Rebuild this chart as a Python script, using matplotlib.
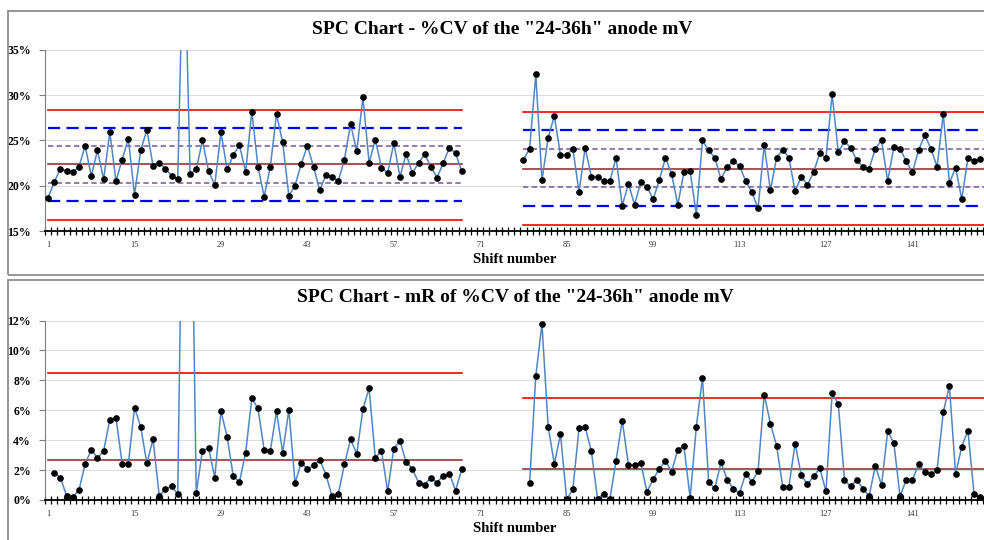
import matplotlib.pyplot as plt
import numpy as np
from matplotlib.patches import Rectangle
from matplotlib.ticker import FuncFormatter, FixedLocator

plt.rcParams['font.family'] = ['Liberation Serif', 'DejaVu Serif']

# %CV of the anode mV per shift (two runs, gap between 68 and 78)
shift_left = list(range(1, 69))
cv_left = [18.7, 20.4, 21.9, 21.6, 21.5, 22.1, 24.4, 21.1, 23.9, 20.7,
           25.9, 20.5, 22.9, 25.2, 19.0, 23.9, 26.2, 22.2, 22.5, 21.9,
           21.1, 20.7, 50.0, 21.3, 21.8, 25.0, 21.6, 20.1, 25.9, 21.8,
           23.4, 24.5, 21.5, 28.2, 22.1, 18.8, 22.1, 27.9, 24.8, 18.9,
           20.0, 22.4, 24.4, 22.1, 19.5, 21.2, 21.0, 20.5, 22.9, 26.8,
           23.8, 29.8, 22.5, 25.1, 22.0, 21.4, 24.7, 21.0, 23.5, 21.4,
           22.5, 23.5, 22.1, 20.9, 22.5, 24.2, 23.6, 21.6]
shift_right = list(range(78, 153))
cv_right = [22.9, 24.1, 32.3, 20.6, 25.3, 27.7, 23.4, 23.4, 24.1, 19.3,
            24.2, 21.0, 21.0, 20.5, 20.5, 23.1, 17.8, 20.2, 17.9, 20.4,
            19.9, 18.5, 20.6, 23.1, 21.3, 17.9, 21.5, 21.6, 16.8, 25.0,
            23.9, 23.1, 20.7, 22.1, 22.7, 22.2, 20.5, 19.3, 17.5, 24.5,
            19.5, 23.1, 24.0, 23.1, 19.4, 21.0, 20.1, 21.5, 23.6, 23.1,
            30.1, 23.7, 24.9, 24.2, 22.8, 22.1, 21.9, 24.1, 25.0, 20.5,
            24.3, 24.1, 22.7, 21.5, 23.9, 25.6, 24.1, 22.1, 27.9, 20.3,
            22.0, 18.5, 23.1, 22.7, 23.0]

# moving range of %CV
mr_shift_left = list(range(2, 69))
mr_left = [1.8, 1.5, 0.27, 0.22, 0.65, 2.4, 3.37, 2.8, 3.28, 5.38,
           5.5, 2.41, 2.41, 6.18, 4.89, 2.46, 4.06, 0.29, 0.71, 0.94,
           0.38, 29.3, 28.7, 0.45, 3.3, 3.48, 1.5, 5.94, 4.24, 1.58,
           1.21, 3.17, 6.79, 6.12, 3.35, 3.3, 5.92, 3.17, 6.03, 1.12,
           2.5, 2.05, 2.32, 2.68, 1.7, 0.25, 0.38, 2.39, 4.06, 3.08,
           6.09, 7.46, 2.81, 3.3, 0.58, 3.44, 3.95, 2.54, 2.1, 1.16,
           1.03, 1.5, 1.16, 1.63, 1.76, 0.63, 2.05]
mr_shift_right = list(range(79, 153))
mr_right = [1.16, 8.3, 11.76, 4.91, 2.41, 4.4, 0.04, 0.71, 4.78, 4.89,
            3.26, 0.09, 0.42, 0.04, 2.63, 5.31, 2.37, 2.32, 2.5, 0.54,
            1.38, 2.08, 2.61, 1.9, 3.37, 3.59, 0.13, 4.89, 8.17, 1.18,
            0.78, 2.52, 1.36, 0.74, 0.47, 1.76, 1.23, 1.92, 7.05, 5.11,
            3.64, 0.89, 0.89, 3.77, 1.67, 1.05, 1.58, 2.12, 0.58, 7.12,
            6.43, 1.32, 0.92, 1.34, 0.76, 0.27, 2.3, 0.98, 4.6, 3.79,
            0.25, 1.34, 1.32, 2.41, 1.88, 1.72, 2.01, 5.87, 7.61, 1.74,
            3.57, 4.64, 0.38, 0.22]

# control limits: (UCL, +2s, +1s, CL, -1s, -2s, LCL)
cv_limits_left = [28.4, 26.4, 24.4, 22.4, 20.35, 18.3, 16.25]
cv_limits_right = [28.17, 26.16, 24.07, 21.9, 19.81, 17.72, 15.63]
mr_limits_left = [8.5, 2.66]
mr_limits_right = [6.79, 2.10]
span_left = [1, 68]
span_right = [78, 153]

tick_labels = list(range(1, 152, 14))

LINE = '#4F86C6'
RED = '#FF0000'
CL_COL = '#943634'
BLUE = '#0000FF'
PURPLE = '#8064A2'

fig = plt.figure(figsize=(9.84, 5.4), dpi=100)

# grey panel frames
for (y0, y1) in [(11, 275), (280, 545)]:
    fig.patches.append(Rectangle((8 / 984, 1 - y1 / 540), 1.2, (y1 - y0) / 540,
                                 transform=fig.transFigure, fill=False,
                                 edgecolor='#8c8c8c', linewidth=1.3))

ax1 = fig.add_axes([45 / 984, 1 - 231 / 540, 1 - 45 / 984, 181 / 540])
ax2 = fig.add_axes([45 / 984, 1 - 500 / 540, 1 - 45 / 984, 179.5 / 540])


def style_axis(ax):
    ax.set_xlim(0.5, 152.6)
    ax.set_axisbelow(True)
    ax.yaxis.grid(True, color='#dcdcdc', linewidth=0.8)
    for s in ['top', 'right']:
        ax.spines[s].set_visible(False)
    ax.spines['left'].set_color('#7f7f7f')
    ax.spines['bottom'].set_color('black')
    ax.spines['bottom'].set_linewidth(1.3)
    ax.xaxis.set_major_locator(FixedLocator(tick_labels))
    ax.xaxis.set_minor_locator(FixedLocator(np.arange(0.5, 153, 1)))
    ax.tick_params(axis='x', which='major', length=0, labelsize=6, pad=7,
                   labelcolor='#333333')
    ax.tick_params(axis='x', which='minor', length=6, direction='inout',
                   width=0.9, color='black')
    ax.tick_params(axis='y', length=4, color='#7f7f7f', labelsize=8.5, pad=6)
    ax.yaxis.set_major_formatter(FuncFormatter(lambda v, p: f'{v:.0f}%'))
    for lab in ax.get_yticklabels():
        lab.set_fontweight('bold')
    ax.set_xlabel('Shift number', fontsize=10.5, fontweight='bold', labelpad=3)


# top chart
ax1.set_ylim(15, 35)
ax1.set_yticks(np.arange(15, 36, 5))
style_axis(ax1)
for span, lim in [(span_left, cv_limits_left), (span_right, cv_limits_right)]:
    ucl, p2, p1, cl, m1, m2, lcl = lim
    ax1.plot(span, [ucl, ucl], color=RED, lw=1.2)
    ax1.plot(span, [lcl, lcl], color=RED, lw=1.2)
    ax1.plot(span, [cl, cl], color=CL_COL, lw=1.2)
    ax1.plot(span, [p2, p2], color=BLUE, lw=1.6, linestyle=(0, (5.5, 2.8)))
    ax1.plot(span, [m2, m2], color=BLUE, lw=1.6, linestyle=(0, (5.5, 2.8)))
    ax1.plot(span, [p1, p1], color=PURPLE, lw=1.2, linestyle=(0, (3.2, 2.0)))
    ax1.plot(span, [m1, m1], color=PURPLE, lw=1.2, linestyle=(0, (3.2, 2.0)))
for xs, ys in [(shift_left, cv_left), (shift_right, cv_right)]:
    ax1.plot(xs, ys, color=LINE, lw=1.1, marker='o', markersize=3.8,
             markerfacecolor='black', markeredgecolor='black', zorder=5)

# bottom chart
ax2.set_ylim(0, 12)
ax2.set_yticks(np.arange(0, 13, 2))
style_axis(ax2)
for span, lim in [(span_left, mr_limits_left), (span_right, mr_limits_right)]:
    ucl, cl = lim
    ax2.plot(span, [ucl, ucl], color=RED, lw=1.2)
    ax2.plot(span, [cl, cl], color=CL_COL, lw=1.2)
for xs, ys in [(mr_shift_left, mr_left), (mr_shift_right, mr_right)]:
    ax2.plot(xs, ys, color=LINE, lw=1.1, marker='o', markersize=3.8,
             markerfacecolor='black', markeredgecolor='black', zorder=5)

fig.text(502 / 984, 1 - 30 / 540, 'SPC Chart - %CV of the "24-36h" anode mV',
         ha='center', va='center', fontsize=14, fontweight='bold')
fig.text(515 / 984, 1 - 298 / 540, 'SPC Chart - mR of %CV of the "24-36h" anode mV',
         ha='center', va='center', fontsize=14, fontweight='bold')

fig.savefig('out.png', dpi=100)
